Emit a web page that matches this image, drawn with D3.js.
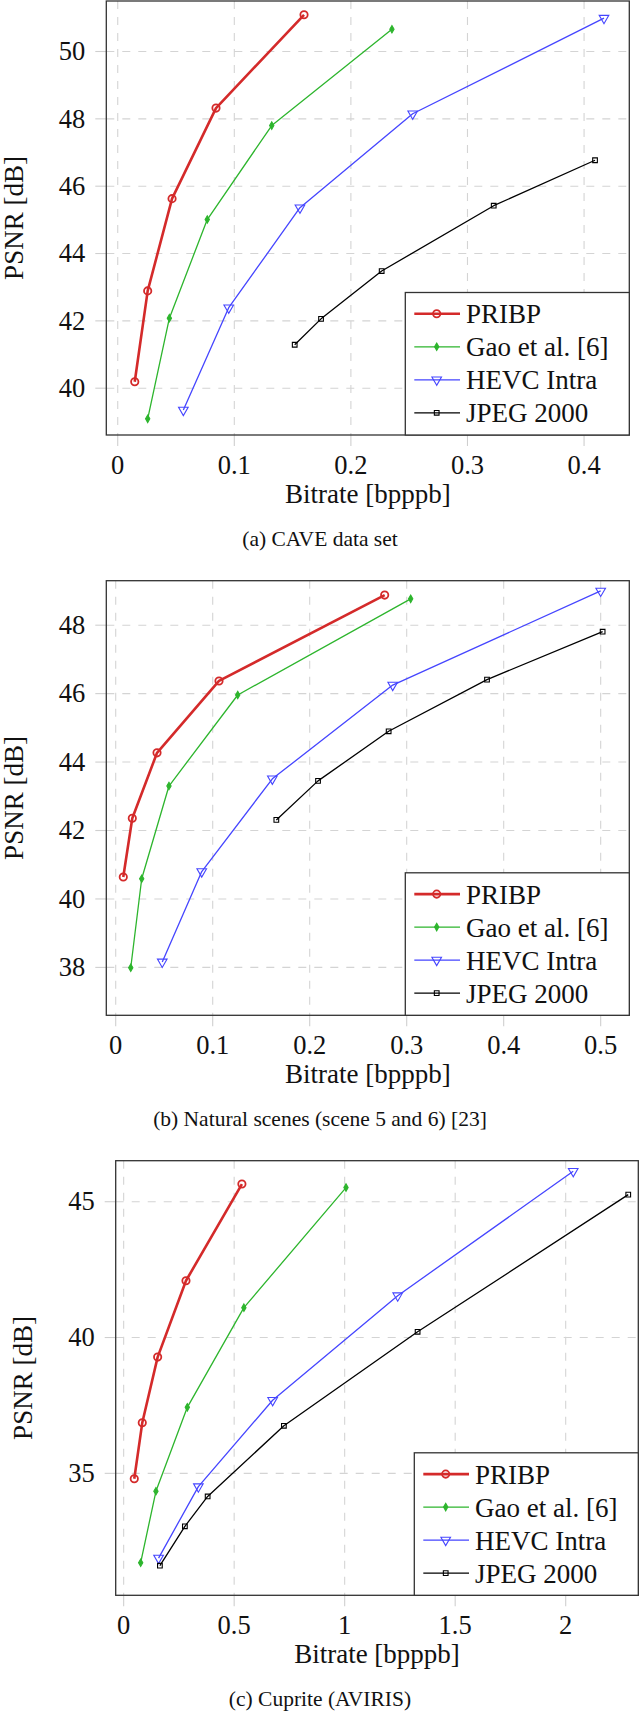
<!DOCTYPE html>
<html>
<head>
<meta charset="utf-8">
<script src="https://cdn.jsdelivr.net/npm/d3@7"></script>
<style>
  body { margin: 0; background: #fff; }
</style>
</head>
<body>
<script>
const seriesNames = ['PRIBP', 'Gao et al. [6]', 'HEVC Intra', 'JPEG 2000'];
const seriesColors = ['#d42a2a', '#2db52d', '#4545ff', '#000000'];
const seriesWidths = [2.6, 1.3, 1.3, 1.3];
const seriesMarks = ['circle', 'diamond', 'triangle', 'square'];

// (a) CAVE data set: [bitrate, psnr]
const cavePribp = [[0.0146, 40.19], [0.0257, 42.89], [0.0466, 45.63], [0.0843, 48.32], [0.1598, 51.09]];
const caveGao = [[0.0257, 39.09], [0.0443, 42.08], [0.0768, 45.01], [0.1321, 47.80], [0.2352, 50.66]];
const caveHevc = [[0.0563, 39.35], [0.0952, 42.39], [0.1563, 45.36], [0.253, 48.15], [0.4171, 50.99]];
const caveJpeg = [[0.1518, 41.29], [0.1744, 42.06], [0.2264, 43.48], [0.3225, 45.42], [0.4094, 46.77]];
const caveXTicks = [0, 0.1, 0.2, 0.3, 0.4];
const caveYTicks = [40, 42, 44, 46, 48, 50];

// (b) Natural scenes
const natPribp = [[0.0078, 40.64], [0.0171, 42.36], [0.0426, 44.27], [0.1065, 46.37], [0.2773, 48.88]];
const natGao = [[0.0155, 37.99], [0.0268, 40.59], [0.0549, 43.30], [0.1258, 45.96], [0.3041, 48.77]];
const natHevc = [[0.048, 38.16], [0.0887, 40.80], [0.1615, 43.51], [0.2856, 46.25], [0.5, 49.00]];
const natJpeg = [[0.1656, 42.31], [0.2086, 43.45], [0.2814, 44.90], [0.3828, 46.41], [0.502, 47.81]];
const natXTicks = [0, 0.1, 0.2, 0.3, 0.4, 0.5];
const natYTicks = [38, 40, 42, 44, 46, 48];

// (c) Cuprite (AVIRIS)
const cupPribp = [[0.048, 34.80], [0.0842, 36.86], [0.1538, 39.28], [0.282, 42.09], [0.535, 45.65]];
const cupGao = [[0.077, 31.71], [0.146, 34.34], [0.288, 37.43], [0.544, 41.10], [1.006, 45.52]];
const cupHevc = [[0.158, 31.88], [0.338, 34.51], [0.674, 37.69], [1.240, 41.54], [2.034, 46.12]];
const cupJpeg = [[0.164, 31.60], [0.277, 33.05], [0.380, 34.15], [0.725, 36.75], [1.330, 40.21], [2.283, 45.26]];
const cupXTicks = [0, 0.5, 1, 1.5, 2];
const cupYTicks = [35, 40, 45];

const captions = ['(a) CAVE data set', '(b) Natural scenes (scene 5 and 6) [23]', '(c) Cuprite (AVIRIS)'];

const panels = [
	{series: [cavePribp, caveGao, caveHevc, caveJpeg], xTicks: caveXTicks, yTicks: caveYTicks,
	 xDomain: [-0.0098, 0.4388], yDomain: [38.61, 51.5],
	 left: 106.3, right: 629.3, top: 1, bottom: 435, ylabelX: 23, caption: captions[0]},
	{series: [natPribp, natGao, natHevc, natJpeg], xTicks: natXTicks, yTicks: natYTicks,
	 xDomain: [-0.0097, 0.5295], yDomain: [36.6, 49.3],
	 left: 106.3, right: 629.3, top: 580.7, bottom: 1015.3, ylabelX: 23, caption: captions[1]},
	{series: [cupPribp, cupGao, cupHevc, cupJpeg], xTicks: cupXTicks, yTicks: cupYTicks,
	 xDomain: [-0.036, 2.3285], yDomain: [30.51, 46.51],
	 left: 115.7, right: 638.3, top: 1160.7, bottom: 1595.3, ylabelX: 32, caption: captions[2]}
];

const serif = '"Liberation Serif", "Times New Roman", Times, serif';

var svg = d3.select('body').append('svg')
	.attr('width', 640).attr('height', 1711)
	.attr('font-family', serif);

function markPath(kind){
	switch(kind){
		case 'circle': return d3.symbol().type(d3.symbolCircle).size(42)();
		case 'diamond': return d3.symbol().type(d3.symbolDiamond).size(16)();
		case 'triangle': return d3.symbol().type(d3.symbolTriangle).size(40)();
		default: return d3.symbol().type(d3.symbolSquare).size(22)();
	}
}

function drawMark(g, i, px, py){
	var m = g.append('path')
		.attr('d', markPath(seriesMarks[i]))
		.attr('stroke', seriesColors[i])
		.attr('fill', seriesMarks[i] == 'diamond' ? seriesColors[i] : 'none')
		.attr('stroke-width', i == 0 ? 1.8 : 1.1);
	var rot = seriesMarks[i] == 'triangle' ? ' rotate(180)' : '';
	m.attr('transform', 'translate(' + px + ',' + py + ')' + rot);
}

function addText(g){
	return g.append('text').attr('font-family', serif).attr('fill', '#111');
}

function drawPanel(p){
	var g = svg.append('g');
	var x = d3.scaleLinear().domain(p.xDomain).range([p.left, p.right]);
	var y = d3.scaleLinear().domain(p.yDomain).range([p.bottom, p.top]);

	// grid lines (dashed) and outside ticks
	g.selectAll('line.gx').data(p.xTicks).enter().append('line')
		.attr('x1', d => x(d)).attr('x2', d => x(d))
		.attr('y1', p.top).attr('y2', p.bottom)
		.attr('stroke', '#d4d4d4').attr('stroke-width', 1.1).attr('stroke-dasharray', '8,8');
	g.selectAll('line.gy').data(p.yTicks).enter().append('line')
		.attr('y1', d => y(d)).attr('y2', d => y(d))
		.attr('x1', p.left).attr('x2', p.right)
		.attr('stroke', '#d4d4d4').attr('stroke-width', 1.1).attr('stroke-dasharray', '8,8');
	g.selectAll('line.tx').data(p.xTicks).enter().append('line')
		.attr('x1', d => x(d)).attr('x2', d => x(d))
		.attr('y1', p.bottom).attr('y2', p.bottom + 11)
		.attr('stroke', '#cfcfcf').attr('stroke-width', 1.1);
	g.selectAll('line.ty').data(p.yTicks).enter().append('line')
		.attr('y1', d => y(d)).attr('y2', d => y(d))
		.attr('x1', p.left - 11).attr('x2', p.left)
		.attr('stroke', '#cfcfcf').attr('stroke-width', 1.1);

	// tick labels
	p.xTicks.forEach(function(d){
		addText(g).attr('x', x(d)).attr('y', p.bottom + 39)
			.attr('text-anchor', 'middle').attr('font-size', 26.5)
			.text(String(d));
	});
	p.yTicks.forEach(function(d){
		addText(g).attr('x', p.left - 21).attr('y', y(d)).attr('dy', '0.33em')
			.attr('text-anchor', 'end').attr('font-size', 26.5)
			.text(String(d));
	});

	// axis labels
	addText(g)
		.attr('x', (p.left + p.right) / 2).attr('y', p.bottom + 68)
		.attr('text-anchor', 'middle').attr('font-size', 27)
		.text('Bitrate [bpppb]');
	addText(g)
		.attr('transform', 'translate(' + p.ylabelX + ',' + ((p.top + p.bottom) / 2) + ') rotate(-90)')
		.attr('text-anchor', 'middle').attr('font-size', 27)
		.text('PSNR [dB]');
	addText(g)
		.attr('x', 320).attr('y', p.bottom + 111)
		.attr('text-anchor', 'middle').attr('font-size', 21.5)
		.text(p.caption);

	// series
	var line = d3.line().x(d => x(d[0])).y(d => y(d[1]));
	p.series.forEach(function(s, i){
		g.append('path').datum(s)
			.attr('d', line)
			.attr('fill', 'none')
			.attr('stroke', seriesColors[i])
			.attr('stroke-width', seriesWidths[i])
			.attr('stroke-linejoin', 'round');
		s.forEach(d => drawMark(g, i, x(d[0]), y(d[1])));
	});

	// frame
	g.append('rect')
		.attr('x', p.left).attr('y', p.top)
		.attr('width', p.right - p.left).attr('height', p.bottom - p.top)
		.attr('fill', 'none').attr('stroke', '#333').attr('stroke-width', 1.3);

	// legend
	var lx = p.right - 224;
	var ly = p.bottom - 142.5;
	g.append('rect')
		.attr('x', lx).attr('y', ly)
		.attr('width', 224).attr('height', 142.5)
		.attr('fill', '#fff').attr('stroke', '#333').attr('stroke-width', 1.3);
	seriesNames.forEach(function(name, i){
		var ry = ly + 21.3 + i * 33;
		g.append('line')
			.attr('x1', lx + 9).attr('x2', lx + 54.7)
			.attr('y1', ry).attr('y2', ry)
			.attr('stroke', seriesColors[i]).attr('stroke-width', seriesWidths[i]);
		drawMark(g, i, lx + 31.4, ry);
		addText(g)
			.attr('x', lx + 60.7).attr('y', ry).attr('dy', '0.35em')
			.attr('font-size', 27)
			.text(name);
	});
}

panels.forEach(drawPanel);
</script>
</body>
</html>
